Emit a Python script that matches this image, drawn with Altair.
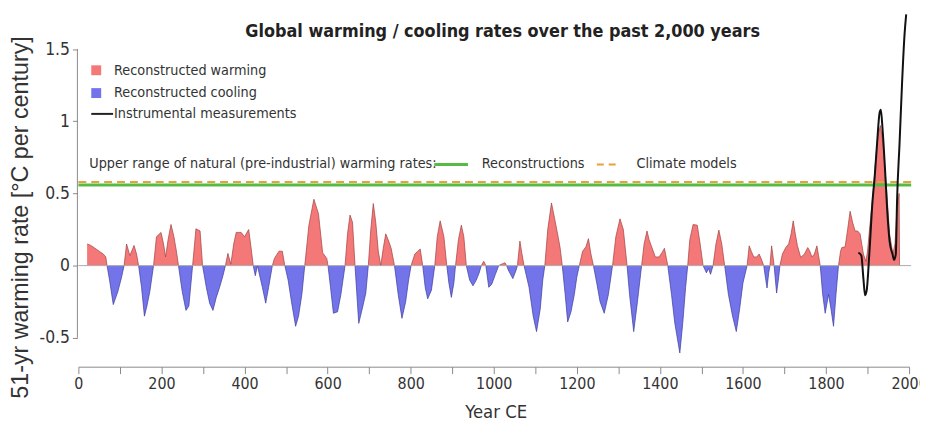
import altair as alt
import pandas as pd

# ---- data -------------------------------------------------------------------
# (year CE, 51-yr warming rate in degC per century) - reconstructions
REC_POINTS = [
    (21, 0.15), (30, 0.14), (40, 0.12), (50, 0.10), (60, 0.08), (66, 0.06), (69, 0),
    (75, -0.10), (84, -0.27), (95, -0.18), (104, -0.08), (110, 0),
    (116, 0.15), (124, 0.07), (134, 0.14), (140, 0.08), (145, 0),
    (152, -0.15), (159, -0.35), (165, -0.28), (172, -0.18), (181, 0),
    (188, 0.20), (199, 0.23), (205, 0.15), (210, 0.06), (216, 0.18), (223, 0.285),
    (230, 0.20), (236, 0.10), (241, 0),
    (250, -0.18), (259, -0.31), (266, -0.28), (275, 0),
    (283, 0.255), (293, 0.24), (299, 0),
    (308, -0.15), (316, -0.26), (324, -0.31), (332, -0.22), (340, -0.15), (348, -0.07), (354, 0),
    (360, 0.085), (367, 0.01), (374, 0.15), (380, 0.23), (392, 0.23), (400, 0.20),
    (410, 0.25), (416, 0.12), (421, 0),
    (426, -0.07), (431, 0), (435, -0.05), (443, -0.15), (451, -0.26), (458, -0.15), (467, 0),
    (472, 0.05), (483, 0.10), (491, 0.10), (497, 0),
    (505, -0.10), (513, -0.25), (523, -0.42), (530, -0.35), (538, -0.20), (545, 0),
    (555, 0.28), (567, 0.46), (578, 0.36), (584, 0.20), (588, 0.09), (598, 0.05), (601, 0),
    (607, -0.15), (614, -0.33), (624, -0.32), (632, -0.20), (642, 0),
    (648, 0.22), (654, 0.35), (660, 0.30), (666, 0),
    (675, -0.40), (685, -0.28), (692, -0.19), (698, 0),
    (704, 0.25), (710, 0.43), (716, 0.30), (722, 0.10), (728, 0),
    (734, 0.12), (740, 0.22), (747, 0.17), (753, 0.12), (761, 0),
    (770, -0.20), (779, -0.365), (788, -0.25), (795, -0.10), (801, 0),
    (810, 0.08), (823, 0.115), (829, 0),
    (835, -0.15), (841, -0.23), (850, -0.17), (858, 0),
    (864, 0.20), (871, 0.31), (880, 0.20), (887, 0),
    (892, -0.12), (898, -0.22), (904, -0.12), (908, 0),
    (915, 0.18), (922, 0.28), (928, 0.20), (934, 0),
    (942, -0.10), (950, -0.14), (958, -0.10), (965, -0.05), (970, 0),
    (976, 0.03), (981, 0),
    (988, -0.15), (995, -0.13), (1004, -0.06), (1012, 0),
    (1015, 0.005), (1027, 0.02), (1031, 0),
    (1035, -0.03), (1046, -0.09), (1054, -0.03), (1057, 0),
    (1063, 0.17), (1068, 0.08), (1073, 0),
    (1085, -0.15), (1095, -0.35), (1103, -0.457), (1112, -0.30), (1118, -0.10), (1123, 0),
    (1130, 0.25), (1139, 0.434), (1147, 0.32), (1155, 0.20), (1160, 0.12), (1165, 0),
    (1172, -0.20), (1178, -0.39), (1186, -0.32), (1194, -0.20), (1200, -0.08), (1206, 0),
    (1214, 0.10), (1222, 0.13), (1228, 0.187), (1234, 0.08), (1240, 0),
    (1248, -0.12), (1256, -0.25), (1266, -0.33), (1276, -0.20), (1286, 0),
    (1294, 0.20), (1304, 0.324), (1312, 0.25), (1321, 0),
    (1327, -0.20), (1337, -0.457), (1346, -0.25), (1356, 0),
    (1362, 0.15), (1369, 0.24), (1374, 0.18), (1379, 0.14), (1389, 0.06), (1398, 0.06),
    (1405, 0.09), (1411, 0.12), (1419, 0),
    (1428, -0.20), (1436, -0.40), (1448, -0.605), (1455, -0.40), (1462, -0.15), (1467, 0),
    (1472, 0.18), (1480, 0.285), (1490, 0.28), (1497, 0.15), (1504, 0),
    (1512, -0.05), (1517, -0.02), (1522, -0.06), (1528, 0),
    (1535, 0.15), (1542, 0.246), (1549, 0.15), (1556, 0),
    (1565, -0.20), (1575, -0.35), (1584, -0.457), (1592, -0.30), (1600, -0.12), (1610, 0),
    (1615, 0.137), (1620, 0.10), (1626, 0.06), (1633, 0.06), (1639, 0.08), (1645, 0.04), (1650, 0),
    (1654, -0.08), (1658, -0.155), (1662, -0.05), (1665, 0),
    (1669, 0.137), (1673, 0.05), (1675, 0),
    (1681, -0.19), (1686, -0.08), (1689, 0),
    (1695, 0.08), (1703, 0.125), (1710, 0.15), (1716, 0.22), (1721, 0.31), (1726, 0.22),
    (1731, 0.14), (1739, 0.057), (1748, 0.08), (1756, 0.125), (1761, 0.10), (1766, 0.06),
    (1772, 0.08), (1778, 0.137), (1782, 0.07), (1786, 0),
    (1792, -0.20), (1798, -0.33), (1806, -0.20), (1812, -0.30), (1818, -0.42), (1824, -0.20), (1830, 0),
    (1835, 0.10), (1838, 0.125), (1846, 0.13), (1852, 0.25), (1858, 0.377), (1864, 0.30),
    (1870, 0.24), (1876, 0.24), (1882, 0.22), (1890, 0.08), (1896, 0.03), (1900, 0.10),
    (1905, 0.26), (1913, 0.49), (1920, 0.75), (1925, 0.90), (1931, 0.97), (1937, 0.85),
    (1945, 0.56), (1953, 0.22), (1961, 0.08), (1966, 0.15), (1970, 0.35), (1976, 0.50), (1977, 0),
]

# instrumental measurements
INST_POINTS = [
    (1878, 0.09), (1885, 0.07), (1890, -0.09), (1894, -0.205), (1898, -0.17), (1904, 0.07),
    (1912, 0.45), (1917, 0.61), (1923, 0.85), (1929, 1.06), (1932, 1.08), (1936, 0.95),
    (1942, 0.67), (1947, 0.40), (1953, 0.17), (1960, 0.08), (1964, 0.04), (1968, 0.08),
    (1971, 0.45), (1977, 0.845), (1983, 1.26), (1989, 1.60), (1993, 1.74),
]

RECON_UPPER = [0.558]   # upper range of natural warming rates, reconstructions
MODEL_UPPER = [0.580]   # upper range of natural warming rates, climate models
Y_TICKS = [-0.5, 0, 0.5, 1, 1.5]
X_TICKS = list(range(0, 2001, 100))

TITLE = "Global warming / cooling rates over the past 2,000 years"
LEG_WARM = "Reconstructed warming"
LEG_COOL = "Reconstructed cooling"
LEG_INST = "Instrumental measurements"
LEG_UPPER = "Upper range of natural (pre-industrial) warming rates:"
LEG_RECON = "Reconstructions"
LEG_MODEL = "Climate models"

# ---- styles -------------------------------------------------------------------
NARROW = "'DejaVu Sans Condensed', 'Liberation Sans Narrow', 'Liberation Sans', sans-serif"
REG = "'Liberation Sans', Arial, sans-serif"
RED = "#F47878"
RED_EDGE = "#A04040"
BLUE = "#7474EA"
BLUE_EDGE = "#3A3A9A"
GREEN = "#55BB44"
ORANGE = "#E6A23A"
TXT = "#333333"
AXC = "#8a8a8a"
LEGFS = 14.4

W, H = 838, 360
YDOM = [-0.70, 1.772]

xscale = alt.Scale(domain=[0, 2000], nice=False, zero=False)
yscale = alt.Scale(domain=YDOM, nice=False, zero=False)

x_axis = alt.Axis(
    values=X_TICKS,
    labelExpr="datum.value % 200 == 0 ? '' + datum.value : ''",
    grid=False, domainColor=AXC, domainWidth=1, tickColor=AXC, tickSize=7,
    labelFont=NARROW, labelFontSize=16, labelColor=TXT, labelPadding=2,
    labelFlush=False, labelOverlap=False,
    title="Year CE", titleFont=NARROW, titleFontSize=18.5, titleFontWeight="normal",
    titleColor=TXT, titleX=421, titleY=45, titleBaseline="middle",
)
y_axis = alt.Axis(
    values=Y_TICKS, labelExpr="'' + datum.value",
    domain=False, grid=False, tickColor=AXC, tickSize=5, offset=1,
    labelFont=NARROW, labelFontSize=17.5, labelColor=TXT, labelPadding=3,
    labelOverlap=False,
    title="51-yr warming rate [°C per century]", titleFont=REG, titleFontSize=23.5,
    titleFontWeight="normal", titleColor=TXT, titleAngle=270,
    titleX=-57, titleY=209, titleBaseline="middle", titleAlign="center",
)


def X(field):
    return alt.X(field, scale=xscale, axis=x_axis)


def Y(field):
    return alt.Y(field, scale=yscale, axis=y_axis)


def runs(points, keep):
    rows, seg, inrun = [], 0, False
    for yr, v in points:
        if keep(v):
            if not inrun:
                seg += 1
                inrun = True
            rows.append({"year": yr, "rate": v, "seg": seg, "base": 0})
        else:
            inrun = False
    return pd.DataFrame(rows)


warm_df = runs(REC_POINTS, lambda v: v >= 0)
cool_df = runs(REC_POINTS, lambda v: v <= 0)
inst_df = pd.DataFrame(INST_POINTS, columns=["year", "rate"])

warm = alt.Chart(warm_df).mark_area(
    color=RED, opacity=1, line={"color": RED_EDGE, "strokeWidth": 0.7}
).encode(x=X("year:Q"), y=Y("rate:Q"), y2="base:Q", detail="seg:N")

cool = alt.Chart(cool_df).mark_area(
    color=BLUE, opacity=1, line={"color": BLUE_EDGE, "strokeWidth": 0.7}
).encode(x=X("year:Q"), y=Y("rate:Q"), y2="base:Q", detail="seg:N")


def hline(values, **style):
    df = pd.DataFrame({"rate": values, "x0": [0] * len(values), "x1": [2005] * len(values)})
    return alt.Chart(df).mark_rule(**style).encode(
        x=X("x0:Q"), x2="x1:Q", y=Y("rate:Q")
    )


zero = hline([0], color="#aaaaaa", strokeWidth=1)
green = hline(RECON_UPPER, color=GREEN, strokeWidth=3)
orange = hline(MODEL_UPPER, color=ORANGE, strokeWidth=2, strokeDash=[8, 5])

yline = alt.Chart(pd.DataFrame({"lo": [Y_TICKS[0]], "hi": [Y_TICKS[-1]]})).mark_rule(
    color=AXC, strokeWidth=1
).encode(x=alt.value(-1), y=Y("lo:Q"), y2="hi:Q")

inst = alt.Chart(inst_df).mark_line(
    color="#111111", strokeWidth=2, interpolate="monotone"
).encode(x=X("year:Q"), y=Y("rate:Q"))


def text(label, px, py, size=LEGFS, weight="normal", align="left"):
    return alt.Chart(pd.DataFrame({"t": [label]})).mark_text(
        align=align, baseline="middle", font=NARROW, fontSize=size,
        fontWeight=weight, color=TXT if weight == "normal" else "#222222",
    ).encode(text="t:N", x=alt.value(px), y=alt.value(py))


def seg(px1, px2, py, color, width, dash=None):
    kw = {"color": color, "strokeWidth": width}
    if dash:
        kw["strokeDash"] = dash
    return alt.Chart(pd.DataFrame({"a": [0]})).mark_rule(**kw).encode(
        x=alt.value(px1), x2=alt.value(px2), y=alt.value(py)
    )


def square(px, py, color):
    return alt.Chart(pd.DataFrame({"a": [0]})).mark_square(
        size=100, color=color, opacity=1
    ).encode(x=alt.value(px), y=alt.value(py))


annotations = [
    text(TITLE, 428, 22, size=18, weight="bold", align="center"),
    square(18, 61, RED), text(LEG_WARM, 36, 62),
    square(18, 84, BLUE), text(LEG_COOL, 36, 84),
    seg(13, 35, 105, "#222222", 2), text(LEG_INST, 36, 105),
    text(LEG_UPPER, 11, 156),
    seg(359, 393, 156, GREEN, 3), text(LEG_RECON, 407, 156),
    seg(523, 543, 156, ORANGE, 2, [7, 5]), text(LEG_MODEL, 563, 156),
]

chart = alt.layer(
    warm, cool, zero, yline, green, orange, inst, *annotations
).properties(
    width=W, height=H,
    padding={"left": 71, "top": 0, "right": 11, "bottom": 56},
    autosize=alt.AutoSizeParams(type="none"),
    background="white",
).configure_view(stroke=None)

chart.save("out.html", embed_options={"renderer": "svg", "actions": False})
